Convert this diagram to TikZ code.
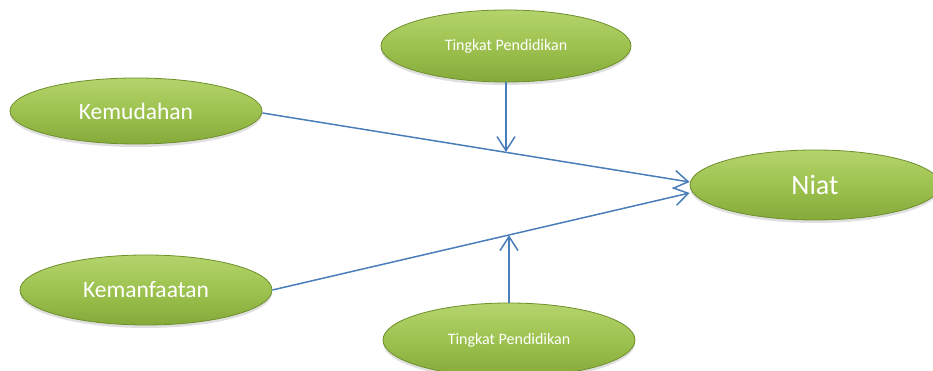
\documentclass[tikz,border=0pt]{standalone}
\usepackage{fontspec}
\setmainfont{Carlito}
\usetikzlibrary{shapes.geometric,arrows.meta,shadows,calc}
\definecolor{gtop}{HTML}{B4D46C}
\definecolor{gmid}{HTML}{9DC24F}
\definecolor{gbot}{HTML}{86AA3A}
\definecolor{gedge}{HTML}{6E8F2C}
\definecolor{lineblue}{HTML}{4A7EBB}
\tikzset{
  oval/.style={ellipse, inner sep=0pt, draw=gedge, line width=0.8pt,
    top color=gtop, bottom color=gbot, middle color=gmid,
    drop shadow={opacity=0.25, shadow xshift=0pt, shadow yshift=-3pt},
    text=white},
  conn/.style={draw=lineblue, line width=1.5pt,
    -{Straight Barb[length=14pt,width=18pt,line width=1.5pt]}},
}
\begin{document}
\begin{tikzpicture}[x=1pt,y=1pt]
\useasboundingbox (0,0) rectangle (933,371);
\node[oval, minimum width=252pt, minimum height=66pt, font=\fontsize{23.5}{26}\selectfont] (kem) at (136,260) {Kemudahan};
\node[oval, minimum width=250pt, minimum height=72pt, font=\fontsize{16}{18}\selectfont] (ttop) at (506,325) {Tingkat Pendidikan};
\node[oval, minimum width=250pt, minimum height=70pt, font=\fontsize{28}{32}\selectfont] (niat) at (815,186) {Niat};
\node[oval, minimum width=252pt, minimum height=70pt, font=\fontsize{23.5}{26}\selectfont] (kman) at (146,81) {Kemanfaatan};
\node[oval, minimum width=252pt, minimum height=74pt, font=\fontsize{16}{18}\selectfont] (tbot) at (509,31) {Tingkat Pendidikan};
\coordinate (in1) at ($(niat.west)+(0,3)$);
\coordinate (in2) at ($(niat.west)+(0,-8)$);
\coordinate (out1) at ($(kem.east)+(0,-2)$);
\path (out1) -- (in1) coordinate[pos=0.565] (m1);
\path (kman.east) -- (in2) coordinate[pos=0.565] (m2);
\draw[conn] (out1) -- (in1);
\draw[conn] (kman.east) -- (in2);
\draw[conn] (ttop.south) -- (ttop.south |- m1);
\draw[conn] (tbot.north) -- (tbot.north |- m2);
\end{tikzpicture}
\end{document}
